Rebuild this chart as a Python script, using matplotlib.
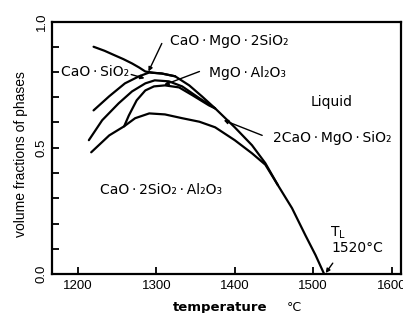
import numpy as np
import matplotlib
matplotlib.use('Agg')
import matplotlib.pyplot as plt
from matplotlib.ticker import MultipleLocator

# ── data (temperature in °C, cumulative volume fraction) ─────────────────────
# upper-left curve, falling from 0.9
t_upper = [1220, 1234, 1247, 1258, 1269, 1278, 1286, 1296, 1307, 1324]
v_upper = [0.900, 0.884, 0.866, 0.851, 0.834, 0.818, 0.802, 0.797, 0.794, 0.783]

# outer boundary: total solid fraction, reaching 0 at T_L
t_outer = [1220, 1240, 1260, 1278, 1291, 1307, 1324, 1342, 1358, 1375,
           1400, 1422, 1439, 1455, 1473, 1490, 1503, 1514]
v_outer = [0.648, 0.704, 0.755, 0.783, 0.798, 0.794, 0.783, 0.747, 0.704,
           0.656, 0.581, 0.510, 0.439, 0.352, 0.261, 0.154, 0.075, 0.0]

# second curve from the top
t_mid = [1214, 1231, 1252, 1269, 1286, 1298, 1316, 1333, 1355, 1375]
v_mid = [0.530, 0.609, 0.676, 0.723, 0.755, 0.767, 0.763, 0.743, 0.696, 0.656]

# lowest starting curve: up to the kink, then steeply up
t_low = [1217, 1240, 1259, 1265, 1275, 1286, 1297, 1311, 1329, 1346, 1367, 1375]
v_low = [0.482, 0.549, 0.585, 0.628, 0.688, 0.727, 0.743, 0.747, 0.739,
         0.708, 0.668, 0.656]

# lower hump (top of the CaO·2SiO2·Al2O3 field)
t_hump = [1259, 1273, 1291, 1311, 1333, 1355, 1375, 1400, 1422, 1439, 1455]
v_hump = [0.585, 0.617, 0.636, 0.632, 0.617, 0.603, 0.581, 0.530, 0.478,
          0.433, 0.352]

x_ticks = [1200, 1300, 1400, 1500, 1600]
y_ticks = [0.0, 0.5, 1.0]

TS = '\u2009'   # thin space around the centre dots
dot = TS + '·' + TS

# free labels: text, x, y
labels = [
    ('Liquid',                              1523, 0.680),
    ('CaO' + dot + '2SiO₂' + dot + 'Al₂O₃', 1306, 0.332),
]
# labels with leader arrows: text, text x, y, arrow tip x, y, tail x, y
leaders = [
    ('CaO' + dot + 'MgO' + dot + '2SiO₂', 1393, 0.921, 1290, 0.802, 1307, 0.913),
    ('CaO' + dot + 'SiO₂',                1222, 0.800, 1285, 0.775, 1268, 0.790),
    ('MgO' + dot + 'Al₂O₃',               1416, 0.798, 1310, 0.749, 1355, 0.802),
    ('2CaO' + dot + 'MgO' + dot + 'SiO₂', 1524, 0.538, 1386, 0.609, 1435, 0.549),
]

# ── figure ───────────────────────────────────────────────────────────────────
fig = plt.figure(figsize=(4.03, 3.13), dpi=100)
ax = fig.add_axes([52 / 403, 39 / 313, 349 / 403, 252.5 / 313])

lw = 1.6
for t, v in [(t_upper, v_upper), (t_outer, v_outer), (t_mid, v_mid),
             (t_low, v_low), (t_hump, v_hump)]:
    ax.plot(t, v, color='black', lw=lw, solid_capstyle='round',
            solid_joinstyle='round')

ax.set_xlim(1167, 1612)
ax.set_ylim(0, 1.0)

ax.set_xticks(x_ticks)
ax.set_yticks(y_ticks)
ax.set_yticklabels([f'{v:.1f}' for v in y_ticks], rotation=90, va='center')
ax.yaxis.set_minor_locator(MultipleLocator(0.1))
ax.tick_params(which='both', direction='in', length=5, width=1.3,
               labelsize=9.5, labelfontfamily='Liberation Sans')
ax.tick_params(axis='x', pad=4)
ax.tick_params(axis='y', pad=3)
for s in ax.spines.values():
    s.set_linewidth(1.6)

ax.set_ylabel('volume fractions of phases', fontsize=10,
              family='Liberation Sans')
ax.yaxis.set_label_coords(-0.069, 0.474)

fig.text(220 / 403, 1 - 301 / 313, 'temperature', ha='center', va='top',
         fontsize=9.5, fontweight='bold')
fig.text(294 / 403, 1 - 301 / 313, '°C', ha='center', va='top', fontsize=9)

for txt, x, y in labels:
    ax.text(x, y, txt, ha='center', va='center', fontsize=10)

for txt, tx, ty, px, py, bx, by in leaders:
    ax.text(tx, ty, txt, ha='center', va='center', fontsize=10)
    ax.annotate('', xy=(px, py), xytext=(bx, by),
                arrowprops=dict(arrowstyle='-|>', color='black', lw=1.0,
                                mutation_scale=6, shrinkA=0, shrinkB=0))

# liquidus temperature
ax.text(1532, 0.163, r'T$_\mathrm{L}$', ha='center', va='center', fontsize=10)
ax.text(1556, 0.103, '1520°C', ha='center', va='center', fontsize=10)
ax.annotate('', xy=(1516, 0.004), xytext=(1525, 0.043),
            arrowprops=dict(arrowstyle='-|>', color='black', lw=1.0,
                            mutation_scale=6, shrinkA=0, shrinkB=0))

fig.savefig('out.png', dpi=100)
